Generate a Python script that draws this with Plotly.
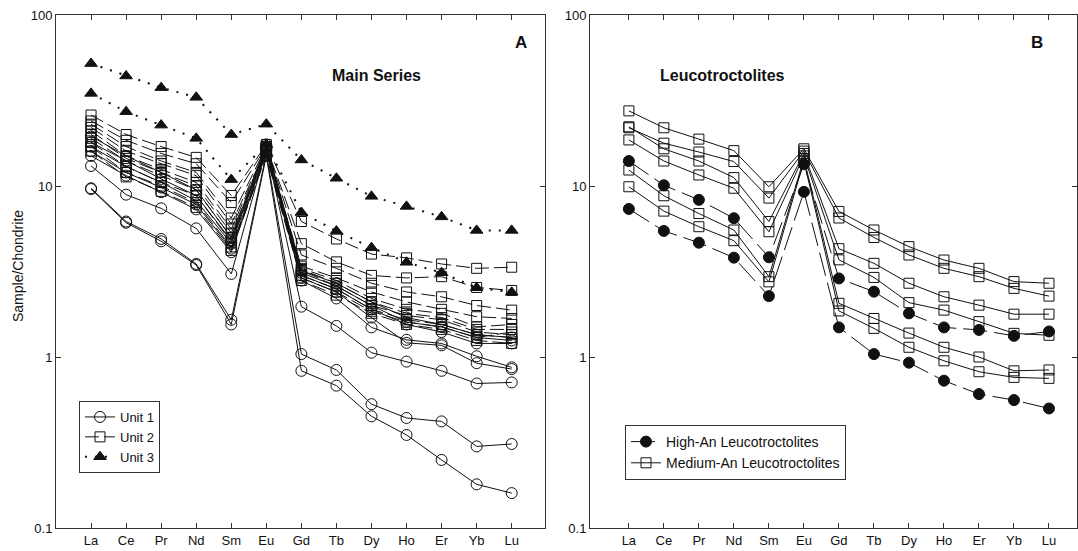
import plotly.graph_objects as go

elements = ["La", "Ce", "Pr", "Nd", "Sm", "Eu", "Gd", "Tb", "Dy", "Ho", "Er", "Yb", "Lu"]

# Panel A - Main Series
unit1 = [
    [9.7, 6.2, 4.9, 3.5, 1.65, 15.5, 1.04, 0.84, 0.53, 0.44, 0.42, 0.30, 0.31],
    [9.6, 6.1, 4.75, 3.45, 1.55, 15.0, 0.83, 0.68, 0.45, 0.35, 0.25, 0.18, 0.16],
    [13.1, 8.9, 7.4, 5.65, 3.06, 16.5, 1.97, 1.52, 1.06, 0.94, 0.83, 0.70, 0.71],
    [15.0, 11.5, 9.2, 7.3, 4.1, 16.0, 2.8, 2.2, 1.49, 1.26, 1.2, 1.01, 0.87],
    [16.0, 12.0, 9.8, 7.8, 4.3, 16.5, 2.9, 2.4, 1.7, 1.21, 1.17, 0.92, 0.85],
    [17.0, 13.0, 10.5, 8.2, 4.6, 17.0, 3.0, 2.5, 1.9, 1.55, 1.4, 1.2, 1.2],
    [18.0, 14.0, 11.0, 8.8, 4.8, 17.0, 3.1, 2.6, 2.0, 1.6, 1.5, 1.3, 1.25],
    [19.5, 15.0, 12.0, 9.5, 5.0, 17.5, 3.2, 2.7, 2.1, 1.7, 1.55, 1.35, 1.3],
]
unit2 = [
    [26.0, 20.0, 17.0, 14.7, 8.8, 17.5, 6.2, 4.9, 4.0, 3.8, 3.5, 3.3, 3.35],
    [24.0, 18.5, 15.5, 13.5, 8.0, 17.0, 4.6, 3.6, 3.0, 2.9, 2.95, 2.55, 2.45],
    [23.0, 17.0, 14.0, 12.0, 6.5, 17.0, 3.95, 3.3, 2.7, 2.4, 2.25, 2.0, 1.88],
    [22.0, 16.0, 13.5, 11.5, 6.0, 16.5, 3.4, 2.9, 2.4, 2.1, 1.9, 1.72, 1.68],
    [21.0, 15.0, 12.5, 10.5, 5.6, 16.5, 3.3, 2.8, 2.2, 1.9, 1.8, 1.5, 1.55],
    [20.0, 14.5, 12.0, 10.0, 5.3, 16.0, 3.25, 2.7, 2.1, 1.8, 1.7, 1.45, 1.45],
    [19.0, 14.0, 11.5, 9.5, 5.0, 16.0, 3.2, 2.6, 2.0, 1.75, 1.65, 1.4, 1.35],
    [18.0, 13.0, 10.5, 8.8, 4.7, 15.5, 3.0, 2.5, 1.9, 1.65, 1.55, 1.35, 1.3],
    [17.0, 12.0, 10.0, 8.0, 4.4, 15.0, 2.9, 2.4, 1.85, 1.6, 1.5, 1.3, 1.4],
    [16.0, 11.3, 9.3, 7.5, 4.2, 15.0, 2.8, 2.3, 1.8, 1.55, 1.45, 1.25, 1.2],
]
unit3 = [
    [52.0, 44.0, 37.6, 33.0, 20.0, 23.0, 14.2, 11.1, 8.7, 7.6, 6.6, 5.5, 5.5],
    [34.8, 27.2, 22.7, 19.0, 10.9, 17.5, 7.0, 5.45, 4.36, 3.58, 3.11, 2.54, 2.39],
]

# Panel B - Leucotroctolites
high_an = [
    [14.0, 10.1, 8.3, 6.48, 3.83, 13.4, 2.88, 2.41, 1.8, 1.49, 1.44, 1.33, 1.41],
    [7.34, 5.46, 4.66, 3.81, 2.27, 9.24, 1.49, 1.04, 0.926, 0.727, 0.607, 0.56, 0.50],
]
medium_an = [
    [27.5, 21.9, 18.8, 16.1, 9.9, 16.5, 7.1, 5.53, 4.42, 3.69, 3.3, 2.76, 2.7],
    [21.9, 17.8, 15.8, 13.9, 8.5, 16.0, 6.5, 5.0, 3.95, 3.3, 2.95, 2.52, 2.27],
    [22.2, 16.5, 14.0, 11.2, 6.2, 15.5, 4.3, 3.53, 2.7, 2.25, 2.01, 1.78, 1.78],
    [18.6, 14.0, 11.6, 9.7, 5.4, 15.0, 3.7, 2.92, 2.08, 1.88, 1.61, 1.375, 1.34],
    [12.4, 8.77, 6.9, 5.53, 2.95, 14.5, 2.06, 1.68, 1.38, 1.14, 1.0, 0.83, 0.84],
    [9.9, 7.13, 5.78, 4.79, 2.75, 14.0, 1.86, 1.47, 1.14, 0.95, 0.82, 0.76, 0.75],
]

y_ticks = [0.1, 1, 10, 100]
y_tick_text = ["0.1", "1", "10", "100"]

FONT = "Liberation Sans, Arial, sans-serif"
BLACK = "#111111"

fig = go.Figure()
xs = list(range(len(elements)))


def add_group(rows, name, xa, ya, legend, symbol, size, dash, width):
    for i, row in enumerate(rows):
        fig.add_trace(go.Scatter(
            x=xs, y=row, mode="lines+markers", name=name,
            xaxis=xa, yaxis=ya, legend=legend,
            showlegend=(i == 0), legendgroup=name,
            line=dict(color=BLACK, width=width, dash=dash),
            marker=dict(symbol=symbol, size=size, color=BLACK,
                        line=dict(color=BLACK, width=1)),
        ))


add_group(unit1, "Unit 1", "x", "y", "legend", "circle-open", 11, "solid", 1)
add_group(unit2, "Unit 2", "x", "y", "legend", "square-open", 10, "14px,5px", 1)
add_group(unit3, "Unit 3", "x", "y", "legend", "triangle-up", 11, "2px,8px", 2)
add_group(high_an, "High-An Leucotroctolites", "x2", "y2", "legend2", "circle", 11, "24px,7px", 1)
add_group(medium_an, "Medium-An Leucotroctolites", "x2", "y2", "legend2", "square-open", 10, "solid", 1)

L, R, T, B = 56, 1077, 15, 528
W, H = 1078, 551


def px_x(p):
    return (p - L) / (R - L)


def px_y(p):
    return (B - p) / (B - T)


axis_common = dict(
    showline=True, linecolor="#333333", linewidth=1, mirror="ticks",
    ticks="inside", ticklen=5, tickcolor="#333333", showgrid=False, zeroline=False,
    tickfont=dict(family=FONT, size=13, color=BLACK),
)


def label(text, x, y, size, angle=0):
    return dict(text=text, x=px_x(x), y=px_y(y), xref="paper", yref="paper",
                xanchor="center", yanchor="middle", textangle=angle,
                showarrow=False, font=dict(family=FONT, size=size, color=BLACK))


fig.update_layout(
    width=W, height=H,
    margin=dict(l=L, r=W - R, t=T, b=H - B),
    paper_bgcolor="white", plot_bgcolor="white",
    font=dict(family=FONT, size=13, color=BLACK),
    xaxis=dict(domain=[0, px_x(545)], range=[-1.0, 12.95], tickvals=xs, ticktext=elements,
               anchor="y", **axis_common),
    xaxis2=dict(domain=[px_x(590), 1], range=[-1.11, 12.8], tickvals=xs, ticktext=elements,
                anchor="y2", **axis_common),
    yaxis=dict(type="log", range=[-1, 2], tickvals=y_ticks, ticktext=y_tick_text,
               anchor="x", **axis_common),
    yaxis2=dict(type="log", range=[-1, 2], tickvals=y_ticks, ticktext=y_tick_text,
                anchor="x2", **axis_common),
    legend=dict(x=px_x(79), y=px_y(401), xanchor="left", yanchor="top",
                bordercolor="#333333", borderwidth=1, bgcolor="white",
                font=dict(family=FONT, size=13, color=BLACK),
                tracegroupgap=0, itemwidth=30),
    legend2=dict(x=px_x(625), y=px_y(425), xanchor="left", yanchor="top",
                 bordercolor="#333333", borderwidth=1, bgcolor="white",
                 font=dict(family=FONT, size=14, color=BLACK),
                 tracegroupgap=0, itemwidth=30),
    annotations=[
        label("<b>A</b>", 521, 42, 17),
        label("<b>Main Series</b>", 376, 75, 16),
        label("<b>B</b>", 1037, 42, 17),
        label("<b>Leucotroctolites</b>", 722, 75, 16),
        label("Sample/Chondrite", 18, 266, 14, angle=-90),
    ],
)

fig.write_html("out.html")
